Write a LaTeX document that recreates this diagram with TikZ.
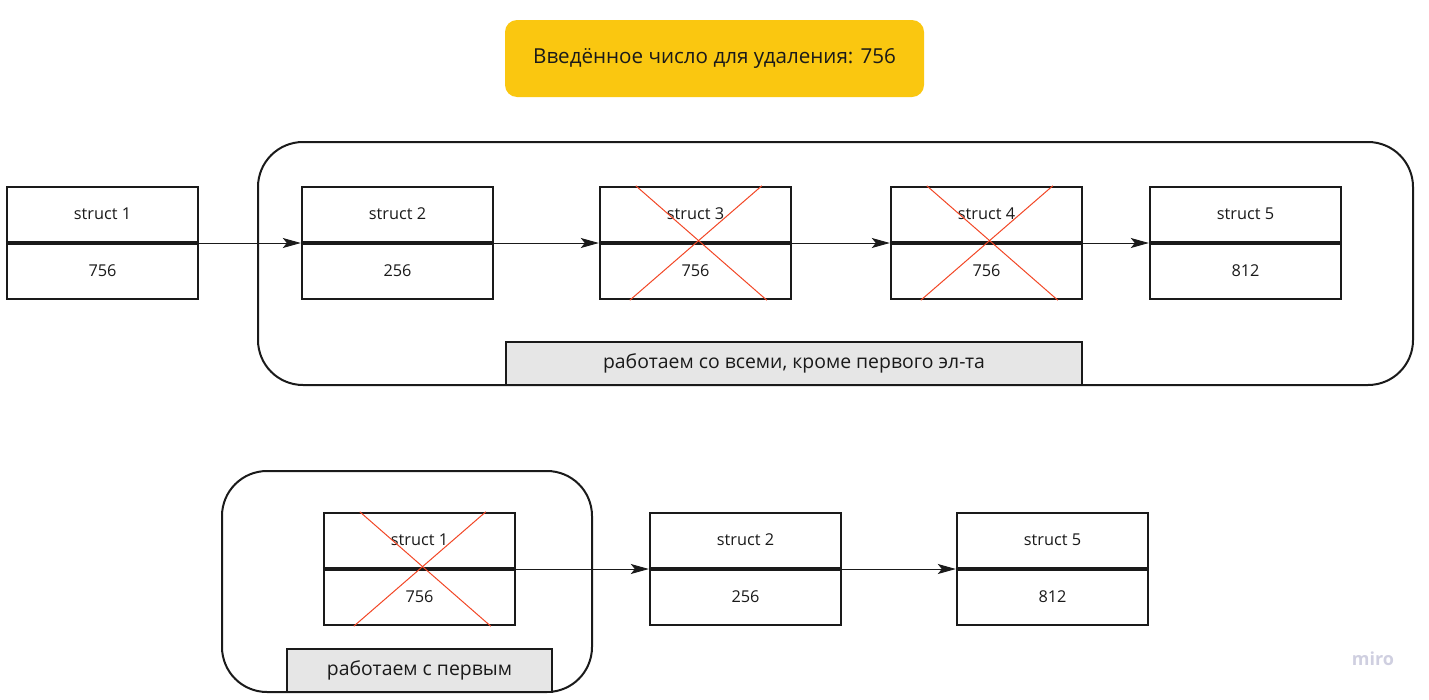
\documentclass[tikz,border=0pt]{standalone}
\usepackage{fontspec}
\setmainfont{Open Sans}
\usetikzlibrary{arrows.meta,calc}
\definecolor{ink}{HTML}{1A1A1A}
\definecolor{myyellow}{HTML}{FAC710}
\definecolor{cross}{HTML}{F24726}
\definecolor{lbl}{HTML}{E6E6E6}
\definecolor{wm}{HTML}{CFCFE0}
\tikzset{
  sbox/.style={draw=ink, line width=2.4pt, minimum width=191pt, minimum height=112pt, inner sep=0pt},
  divider/.style={draw=ink, line width=4.5pt},
  stxt/.style={font=\fontsize{16.3}{18}\selectfont, text=ink},
  link/.style={draw=ink, line width=0.9pt, -{Stealth[length=18pt,width=10pt,inset=4pt]}},
  crossl/.style={draw=cross, line width=1pt},
  group/.style={draw=ink, line width=2pt, rounded corners=45pt, inner sep=0pt},
  glabel/.style={draw=ink, line width=2pt, fill=lbl, inner sep=0pt, font=\fontsize{19.4}{22}\selectfont, text=ink},
}
\newcommand\structbox[5]{%
  \node[sbox] (#1) at (#2,#3) {};
  \draw[divider] (#1.west) -- (#1.east);
  \node[stxt] (#1t) at ([yshift=29pt]#1.center) {#4};
  \node[stxt] (#1v) at ([yshift=-27.5pt]#1.center) {#5};
}
\newcommand\crossout[1]{%
  \draw[crossl] ([xshift=37pt]#1.north west) -- ([xshift=168pt]#1.south west);
  \draw[crossl] ([xshift=163pt]#1.north west) -- ([xshift=31pt]#1.south west);
}
\begin{document}
\begin{tikzpicture}[x=1pt,y=-1pt]
\useasboundingbox (0,0) rectangle (1429,699);
% title
\node[fill=myyellow, rounded corners=12pt, minimum width=419pt, minimum height=77pt, inner sep=0pt,
      font=\fontsize{20.6}{24}\selectfont, text=ink] (title) at (714.5,58.5) {Введённое число для удаления: 756};
% top group
\node[group, minimum width=1155pt, minimum height=243pt] (g1) at (835.5,263.5) {};
\node[glabel, minimum width=576pt, minimum height=43pt] (l1) at (794,363.5) {работаем со всеми, кроме первого эл-та};
% top structs
\structbox{s1}{102.5}{243}{struct 1}{756}
\structbox{s2}{397.5}{243}{struct 2}{256}
\structbox{s3}{695.5}{243}{struct 3}{756}
\structbox{s4}{986.5}{243}{struct 4}{756}
\structbox{s5}{1245.5}{243}{struct 5}{812}
\crossout{s3}
\crossout{s4}
\draw[link] (s1.east) -- (s2.west);
\draw[link] (s2.east) -- (s3.west);
\draw[link] (s3.east) -- (s4.west);
\draw[link] (s4.east) -- (s5.west);
% bottom group
\node[group, minimum width=370pt, minimum height=221pt] (g2) at (407,581.5) {};
\node[glabel, minimum width=265pt, minimum height=43pt] (l2) at (419.5,670.5) {работаем с первым};
\structbox{b1}{419.5}{569}{struct 1}{756}
\structbox{b2}{745.5}{569}{struct 2}{256}
\structbox{b5}{1052.5}{569}{struct 5}{812}
\crossout{b1}
\draw[link] (b1.east) -- (b2.west);
\draw[link] (b2.east) -- (b5.west);
% watermark
\node[text=wm, font=\fontsize{18}{20}\selectfont\bfseries] (wm) at (1373,659) {miro};
\end{tikzpicture}
\end{document}
